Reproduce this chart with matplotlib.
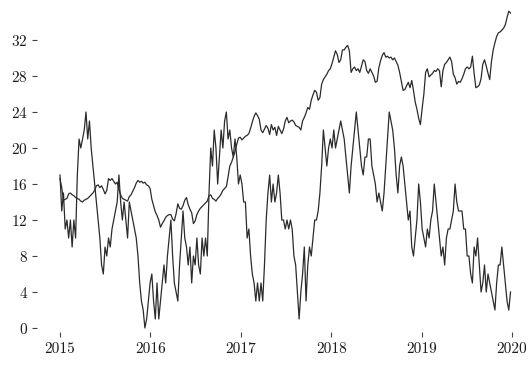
import numpy as np
import pandas as pd
import matplotlib
matplotlib.use("Agg")
import matplotlib.pyplot as plt
import matplotlib.dates as mdates

# ---- data: weekly readings, starting 2015-01-01 ----
price_2015 = [16.6, 15.6, 14.2, 14.3, 14.4, 14.9, 15.0, 14.8, 14.7, 14.5, 14.4, 14.3, 14.1,
              14.0, 14.2, 14.3, 14.4, 14.6, 14.8, 15.0, 15.3, 15.8, 15.9, 15.6, 15.8, 15.4,
              14.9, 15.3, 16.6, 16.4, 16.6, 16.3, 16.0, 16.2, 15.4, 14.8, 14.4, 14.3, 14.2,
              14.1, 14.6, 14.8, 15.2, 15.6, 16.1, 16.4, 16.2, 16.3, 16.1, 16.2, 15.9, 15.8]
price_2016 = [15.5, 14.3, 13.6, 12.9, 12.5, 12.0, 11.2, 11.6, 11.9, 12.3, 12.5, 12.6, 12.6,
              12.1, 11.9, 12.7, 13.8, 13.3, 13.2, 13.6, 14.2, 14.5, 13.7, 13.2, 12.8, 11.6,
              11.9, 12.6, 13.0, 13.3, 13.5, 13.7, 13.9, 14.1, 14.7, 14.8, 14.4, 14.3, 14.1,
              14.4, 14.6, 14.9, 15.3, 15.5, 15.7, 16.8, 18.0, 18.4, 19.0, 19.6, 20.4, 21.1]
price_2017 = [21.2, 20.9, 21.1, 21.3, 21.4, 21.6, 22.2, 22.9, 23.5, 23.9, 23.6, 23.2, 22.0,
              21.7, 22.1, 22.5, 22.2, 21.5, 22.6, 22.0, 22.3, 21.4, 22.4, 22.0, 21.6, 22.1,
              23.0, 23.4, 22.8, 23.0, 23.1, 22.9, 22.5, 22.4, 22.3, 22.0, 23.0, 23.4, 23.9,
              24.5, 24.3, 25.3, 25.9, 26.4, 26.2, 25.3, 25.6, 27.1, 27.6, 27.9, 28.2, 28.6]
price_2018 = [28.8, 29.4, 30.1, 30.8, 30.4, 29.5, 29.8, 30.9, 30.9, 31.2, 31.4, 30.8, 28.4,
              28.8, 29.0, 28.6, 28.8, 28.4, 29.1, 29.8, 29.6, 28.6, 28.3, 28.8, 28.4, 28.0,
              27.3, 27.4, 28.9, 29.7, 30.3, 30.6, 30.1, 30.2, 30.0, 30.1, 29.8, 30.0, 29.6,
              29.2, 28.4, 27.4, 26.4, 26.5, 26.9, 27.3, 26.7, 27.5, 26.4, 25.1, 24.3, 23.3]
price_2019 = [22.6, 24.4, 26.0, 28.4, 28.8, 27.9, 28.1, 28.3, 28.6, 28.5, 28.8, 28.6, 26.8,
              28.6, 29.3, 29.5, 29.8, 30.1, 29.6, 28.2, 27.8, 27.1, 27.4, 27.3, 27.7, 28.2,
              28.8, 29.0, 28.8, 29.0, 30.2, 28.3, 26.7, 26.8, 27.0, 27.7, 29.3, 29.8, 29.1,
              28.3, 27.6, 29.6, 30.9, 31.7, 32.4, 32.8, 32.9, 33.1, 33.3, 33.7, 34.5, 35.2, 35.0]

count_2015 = [17, 13, 15, 11, 12, 10, 12, 9, 12, 10, 17, 21, 20, 21, 22, 24, 21, 23, 20, 18,
              16, 14, 12, 10, 7, 6, 9, 8, 10, 9, 11, 12, 13, 14, 17, 14, 12, 14, 12, 10, 14,
              13, 12, 11, 10, 8, 5, 3, 2, 0, 1, 3]
count_2016 = [5, 6, 3, 1, 5, 1, 3, 5, 7, 5, 8, 10, 12, 8, 5, 4, 3, 7, 10, 13, 10, 9, 7, 9,
              5, 8, 7, 10, 7, 6, 10, 8, 10, 8, 15, 20, 18, 22, 20, 16, 19, 22, 20, 23, 24,
              21, 22, 20, 19, 21, 19, 16]
count_2017 = [17, 16, 14, 14, 10, 11, 8, 6, 5, 3, 5, 3, 5, 3, 7, 12, 15, 17, 14, 16, 14, 15,
              17, 15, 12, 12, 11, 12, 11, 12, 11, 8, 7, 4, 1, 4, 6, 9, 3, 7, 9, 8, 10, 12, 12,
              13, 15, 18, 22, 20, 18, 20]
count_2018 = [21, 20, 22, 20, 21, 22, 23, 22, 21, 19, 17, 15, 18, 20, 22, 24, 22, 20, 18, 17,
              19, 19, 21, 21, 18, 17, 16, 14, 15, 14, 13, 15, 18, 21, 24, 23, 22, 20, 17, 15,
              18, 19, 18, 16, 14, 12, 13, 9, 8, 10, 12, 16]
count_2019 = [14, 11, 10, 9, 11, 10, 12, 13, 16, 14, 12, 10, 8, 9, 7, 10, 11, 11, 12, 13, 16,
              14, 13, 13, 13, 11, 11, 8, 8, 6, 5, 9, 8, 10, 7, 4, 5, 7, 4, 6, 5, 4, 3, 2, 5,
              7, 7, 9, 7, 5, 3, 2, 4]

y_ticks = [0, 4, 8, 12, 16, 20, 24, 28, 32]
start_date = "2015-01-01"

price = price_2015 + price_2016 + price_2017 + price_2018 + price_2019
count = count_2015 + count_2016 + count_2017 + count_2018 + count_2019
dates_price = pd.date_range(start_date, periods=len(price), freq="7D")
dates_count = pd.date_range(start_date, periods=len(count), freq="7D")

# ---- style ----
plt.rcParams['font.family'] = 'cmr10'
plt.rcParams['mathtext.fontset'] = 'cm'
plt.rcParams['axes.formatter.use_mathtext'] = True

W, H = 529, 365
fig = plt.figure(figsize=(W / 100, H / 100), dpi=100)
ax = fig.add_axes([37 / W, (H - 332) / H, (W - 37) / W, 332 / H])

line_color = "#2b2b2b"
ax.plot(dates_count, count, color=line_color, lw=0.9)
ax.plot(dates_price, price, color=line_color, lw=0.9)

for s in ax.spines.values():
    s.set_visible(False)

x0 = pd.Timestamp("2015-01-01")
x1 = pd.Timestamp("2020-01-01")
px_per_day = 452 / (x1 - x0).days
ax.set_xlim(x0 - pd.Timedelta(days=23 / px_per_day), x1 + pd.Timedelta(days=(W - 37 - 475) / px_per_day))
ax.set_ylim(-4 / 9, 328 / 9)

ax.set_yticks(y_ticks)
ax.xaxis.set_major_locator(mdates.YearLocator())
ax.xaxis.set_major_formatter(mdates.DateFormatter("%Y"))
ax.tick_params(axis="both", direction="out", length=3.5, width=0.8, color="#444444",
               labelsize=11, labelcolor="#1a1a1a", pad=3)
ax.tick_params(axis="x", pad=4)

fig.savefig("out.png", dpi=100)
